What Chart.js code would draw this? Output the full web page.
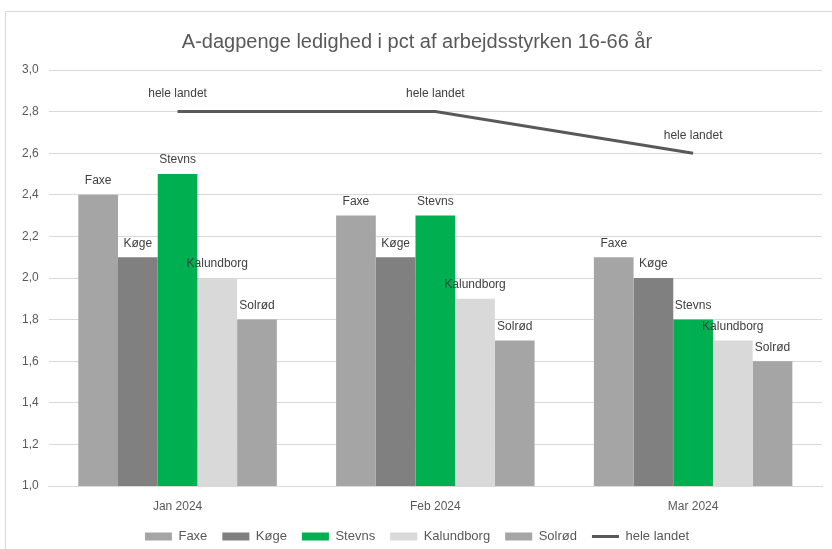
<!DOCTYPE html>
<html>
<head>
<meta charset="utf-8">
<script src="https://cdn.jsdelivr.net/npm/chart.js@4.4.1/dist/chart.umd.min.js"></script>
<style>
  body { margin: 0; background: #fff; }
  #frame { position: absolute; left: 5px; top: 11px; width: 840px; height: 560px; border: 1px solid #d9d9d9; }
  #wrap { position: absolute; left: 0; top: 0; width: 832px; height: 549px; }
</style>
</head>
<body>
<div id="frame"></div>
<div id="wrap"><canvas id="chart"></canvas></div>
<script>
// data
const months = ['Jan 2024', 'Feb 2024', 'Mar 2024'];
const faxe = [2.4, 2.3, 2.1];
const koege = [2.1, 2.1, 2.0];
const stevns = [2.5, 2.3, 1.8];
const kalundborg = [2.0, 1.9, 1.7];
const solroed = [1.8, 1.7, 1.6];
const heleLandet = [2.8, 2.8, 2.6];
const yTicks = [1.0, 1.2, 1.4, 1.6, 1.8, 2.0, 2.2, 2.4, 2.6, 2.8, 3.0];

// skriv serienavn over hver søjle / punkt
const seriesLabels = {
    id: 'seriesLabels',
    afterDatasetsDraw(chart){
        const ctx = chart.ctx;
        ctx.save();
        ctx.font = '12px "Liberation Sans", sans-serif';
        ctx.fillStyle = '#404040';
        ctx.textAlign = 'center';
        ctx.textBaseline = 'bottom';
        chart.data.datasets.forEach((ds, i) => {
            const meta = chart.getDatasetMeta(i);
            const off = ds.type === 'line' ? 12 : 8;
            meta.data.forEach(el => {
                ctx.fillText(ds.label, el.x, el.y - off);
            });
        });
        ctx.restore();
    }
};

// legenden skal fylde mindre i højden
const legendHeight = {
    id: 'legendHeight',
    beforeInit(chart){
        const fit = chart.legend.fit;
        chart.legend.fit = function(){
            fit.bind(chart.legend)();
            this.height = 34;
        };
    }
};

const ctx = document.getElementById('chart').getContext('2d');
const chart = new Chart(ctx, {
    data: {
        labels: months,
        datasets: [
            { type: 'line', label: 'hele landet', data: heleLandet, borderColor: '#595959', backgroundColor: '#595959',
              borderWidth: 3, pointRadius: 0, order: 0 },
            { type: 'bar', label: 'Faxe', data: faxe, backgroundColor: '#a5a5a5', order: 1 },
            { type: 'bar', label: 'Køge', data: koege, backgroundColor: '#808080', order: 1 },
            { type: 'bar', label: 'Stevns', data: stevns, backgroundColor: '#00b050', order: 1 },
            { type: 'bar', label: 'Kalundborg', data: kalundborg, backgroundColor: '#d9d9d9', order: 1 },
            { type: 'bar', label: 'Solrød', data: solroed, backgroundColor: '#a5a5a5', order: 1 }
        ]
    },
    options: {
        responsive: true,
        maintainAspectRatio: false,
        animation: false,
        layout: { padding: { left: 12, right: 10, top: 18, bottom: 0 } },
        datasets: { bar: { categoryPercentage: 0.77, barPercentage: 1.0 } },
        scales: {
            x: {
                grid: { display: false, drawTicks: false },
                border: { color: '#d9d9d9' },
                ticks: { color: '#595959', font: { size: 12, family: '"Liberation Sans", sans-serif' }, padding: 13 },
                afterFit(axis){ axis.height = 29; }
            },
            y: {
                min: 1.0,
                max: 3.0,
                afterBuildTicks(axis){ axis.ticks = yTicks.map(v => ({ value: v })); },
                grid: { color: '#d9d9d9', drawTicks: false },
                border: { display: false },
                ticks: {
                    color: '#595959', padding: 10,
                    font: { size: 12, family: '"Liberation Sans", sans-serif' },
                    callback: v => v.toFixed(1).replace('.', ',')
                }
            }
        },
        plugins: {
            title: {
                display: true,
                text: 'A-dagpenge ledighed i pct af arbejdsstyrken 16-66 år',
                color: '#595959',
                font: { size: 20, weight: 'normal', family: '"Liberation Sans", sans-serif' },
                padding: { top: 12, bottom: 16 }
            },
            legend: {
                position: 'bottom',
                labels: {
                    usePointStyle: true,
                    pointStyleWidth: 27,
                    boxWidth: 27,
                    boxHeight: 8,
                    color: '#595959',
                    font: { size: 13, family: '"Liberation Sans", sans-serif' },
                    padding: 15,
                    sort: (a, b) => (a.datasetIndex === 0 ? 1 : 0) - (b.datasetIndex === 0 ? 1 : 0) || a.datasetIndex - b.datasetIndex,
                    generateLabels(chart){
                        const items = Chart.defaults.plugins.legend.labels.generateLabels(chart);
                        items.forEach(it => {
                            if (it.datasetIndex === 0) { it.pointStyle = 'line'; it.lineWidth = 3; it.strokeStyle = '#595959'; }
                            else { it.pointStyle = 'rect'; it.lineWidth = 0; }
                        });
                        return items;
                    }
                }
            },
            tooltip: { enabled: false }
        }
    },
    plugins: [seriesLabels, legendHeight]
});
</script>
</body>
</html>
